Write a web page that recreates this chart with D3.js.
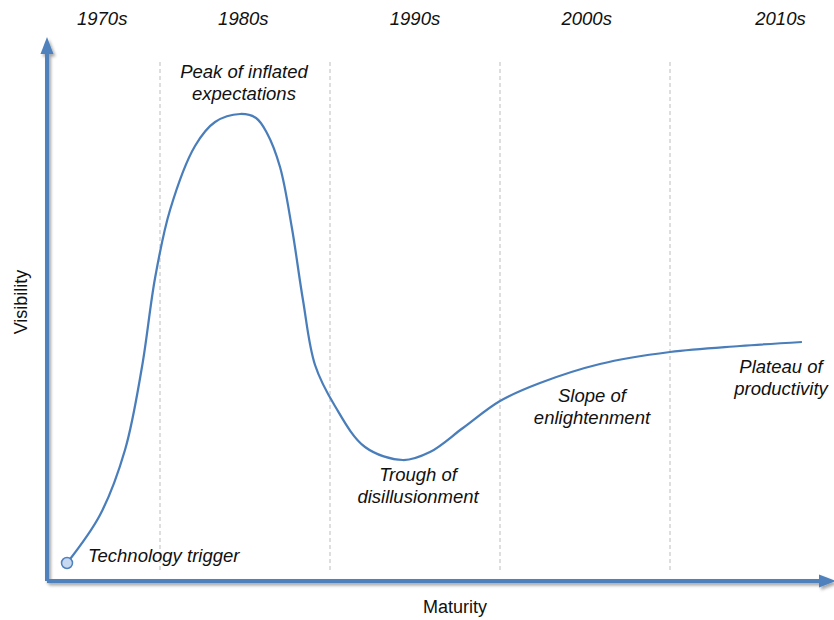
<!DOCTYPE html>
<html>
<head>
<meta charset="utf-8">
<script src="https://cdn.jsdelivr.net/npm/d3@7"></script>
<style>
  body { margin: 0; background: #fff; }
  text { font-family: "Liberation Sans", Arial, sans-serif; fill: #111; }
</style>
</head>
<body>
<div id="graf"></div>
<script>
// Datos de la curva (años, visibilidad 0-100)
const years = [1974.53, 1976.47, 1977.94, 1978.94, 1979.71, 1980.59, 1982.06, 1983.24, 1984.71, 1985.65,
               1986.29, 1987.06, 1987.76, 1988.41, 1989.12, 1990.29, 1992.06, 1994.29, 1995.88, 1997.82,
               2000.0, 2002.35, 2005.88, 2010.0, 2014.12, 2017.76]
const visibility = [3.6, 13.2, 26.2, 42.8, 60.6, 74.2, 87.0, 91.8, 93.4, 92.6,
                    89.6, 82.8, 70.6, 56.2, 43.2, 35.0, 26.8, 24.2, 25.8, 30.6,
                    36.0, 39.6, 43.4, 45.8, 47.0, 47.8]

// Décadas
const decades = ['1970s', '1980s', '1990s', '2000s', '2010s']
const decadeCenters = [1976.6, 1984.9, 1995.0, 2005.1, 2016.5]
const dividers = [1980, 1990, 2000, 2010]

// Fases
const phaseLines = [['Peak of inflated', 'expectations'], ['Technology trigger'], ['Trough of', 'disillusionment'],
                    ['Slope of', 'enlightenment'], ['Plateau of', 'productivity']]
const phaseYears = [1984.94, 1975.76, 1995.18, 2005.41, 2016.53]
const phaseVis = [100.6, 3.8, 20.0, 35.8, 41.6]

const ancho_total = 834
const alto_total = 620
const origen = { x: 47, y: 581 }

const svg = d3.select('#graf').append('svg')
  .attr('width', ancho_total)
  .attr('height', alto_total)

// Escaladores
const x = d3.scaleLinear().domain([1980, 2010]).range([160, 670])
const y = d3.scaleLinear().domain([0, 100]).range([origen.y, origen.y - 500])

const azul = '#4f81bd'

const defs = svg.append('defs')
const sombra = defs.append('filter').attr('id', 'sombra')
  .attr('x', '-20%').attr('y', '-20%').attr('width', '140%').attr('height', '140%')
sombra.append('feDropShadow')
  .attr('dx', 2).attr('dy', 2.5).attr('stdDeviation', 1.5)
  .attr('flood-color', '#000').attr('flood-opacity', 0.35)

// Líneas divisorias
svg.selectAll('.div')
  .data(dividers)
  .join('line')
  .attr('x1', d => x(d)).attr('x2', d => x(d))
  .attr('y1', y(103.8)).attr('y2', y(2))
  .attr('stroke', '#bdbdbd')
  .attr('stroke-width', 1)
  .attr('stroke-dasharray', '4,3')

// Ejes con flechas
const ejes = svg.append('g').attr('filter', 'url(#sombra)')
ejes.append('path')
  .attr('d', `M${origen.x},${origen.y} V52 M${origen.x},${origen.y} H${ancho_total - 12}`)
  .attr('fill', 'none')
  .attr('stroke', azul)
  .attr('stroke-width', 4)
ejes.append('path')
  .attr('d', `M${origen.x},37 L${origen.x + 6.5},54 L${origen.x - 6.5},54 Z`)
  .attr('fill', azul)
ejes.append('path')
  .attr('d', `M${ancho_total + 2},${origen.y} L${ancho_total - 15},${origen.y - 6.5} L${ancho_total - 15},${origen.y + 6.5} Z`)
  .attr('fill', azul)

// Curva
const datos = years.map((d, i) => ({ year: d, value: visibility[i] }))
const lineaGen = d3.line()
  .x(d => x(d.year))
  .y(d => y(d.value))
  .curve(d3.curveCatmullRom.alpha(0.5))

svg.append('path')
  .attr('d', lineaGen(datos))
  .attr('fill', 'none')
  .attr('stroke', '#4a7ebb')
  .attr('stroke-width', 2.25)

svg.append('circle')
  .attr('cx', x(datos[0].year))
  .attr('cy', y(datos[0].value))
  .attr('r', 5.5)
  .attr('fill', '#c6d9f1')
  .attr('stroke', azul)
  .attr('stroke-width', 1.5)

// Etiquetas de décadas
svg.selectAll('.decada')
  .data(decades)
  .join('text')
  .attr('x', (d, i) => x(decadeCenters[i]))
  .attr('y', 25)
  .attr('text-anchor', 'middle')
  .style('font-size', '18.5px')
  .style('font-style', 'italic')
  .text(d => d)

// Etiquetas de fases
phaseLines.forEach((lineas, i) => {
  const t = svg.append('text')
    .attr('x', x(phaseYears[i]))
    .attr('y', y(phaseVis[i]))
    .attr('text-anchor', lineas.length > 1 ? 'middle' : 'start')
    .style('font-size', '18.5px')
    .style('font-style', 'italic')
  lineas.forEach((l, j) => {
    t.append('tspan')
      .attr('x', x(phaseYears[i]))
      .attr('dy', j === 0 ? 0 : 22)
      .text(l)
  })
})

// Títulos de ejes
svg.append('text')
  .attr('transform', `translate(27, 302) rotate(-90)`)
  .attr('text-anchor', 'middle')
  .style('font-size', '18px')
  .text('Visibility')

svg.append('text')
  .attr('x', 455)
  .attr('y', 613)
  .attr('text-anchor', 'middle')
  .style('font-size', '18px')
  .text('Maturity')
</script>
</body>
</html>
